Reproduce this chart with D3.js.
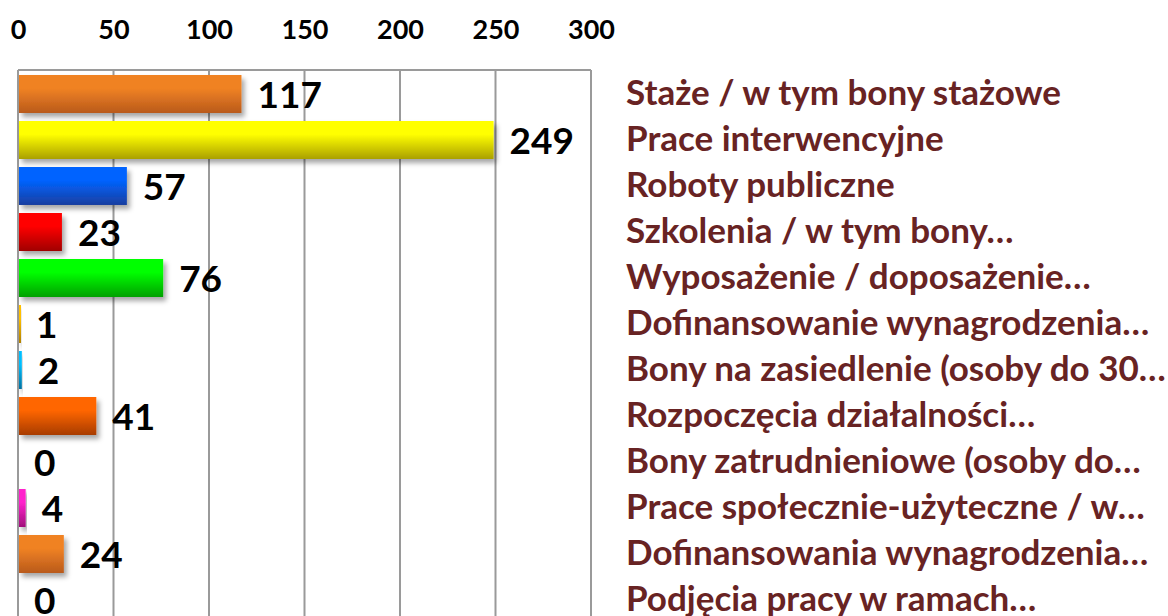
<!DOCTYPE html>
<html>
<head>
<meta charset="utf-8">
<script src="https://cdn.jsdelivr.net/npm/d3@7"></script>
<style>
  html, body { margin: 0; padding: 0; background: #fff; }
  svg { display: block; }
</style>
</head>
<body>
<svg width="1168" height="616"></svg>
<script>
'use strict';

var categories = [
    'Staże / w tym bony stażowe',
    'Prace interwencyjne',
    'Roboty publiczne',
    'Szkolenia / w tym bony…',
    'Wyposażenie / doposażenie…',
    'Dofinansowanie wynagrodzenia…',
    'Bony na zasiedlenie (osoby do 30…',
    'Rozpoczęcia działalności…',
    'Bony zatrudnieniowe (osoby do…',
    'Prace społecznie-użyteczne / w…',
    'Dofinansowania wynagrodzenia…',
    'Podjęcia pracy w ramach…'
];
var values = [117, 249, 57, 23, 76, 1, 2, 41, 0, 4, 24, 0];
var topColors = ['#f08224', '#ffff00', '#0063ff', '#ff0000', '#00ff00', '#ffc000',
                 '#00bfff', '#ff6600', '#ff6600', '#ff22cc', '#f08224', '#f08224'];
var bottomColors = ['#b95a1c', '#aaa000', '#1a3fa0', '#a00000', '#00a000', '#b08000',
                    '#0070a0', '#a83c00', '#a83c00', '#a0107a', '#b95a1c', '#b95a1c'];
var tickValues = [0, 50, 100, 150, 200, 250, 300];

var svg = d3.select('svg');
var FONT = 'Lato, "Open Sans", sans-serif';

var x = d3.scaleLinear().domain([0, 300]).range([18, 591]);
var y = d3.scaleBand()
    .domain(categories)
    .range([71, 71 + 46 * categories.length])
    .paddingInner(0.174)
    .paddingOuter(0.087);

var rows = categories.map(function(c, i) {
    return { name: c, value: values[i], index: i };
});

var defs = svg.append('defs');
var shadow = defs.append('filter')
    .attr('id', 'shadow')
    .attr('x', '-20%').attr('y', '-30%')
    .attr('width', '140%').attr('height', '170%');
shadow.append('feDropShadow')
    .attr('dx', 3).attr('dy', 4)
    .attr('stdDeviation', 2.5)
    .attr('flood-color', '#000')
    .attr('flood-opacity', 0.35);

rows.forEach(function(r) {
    var g = defs.append('linearGradient')
        .attr('id', 'grad' + r.index)
        .attr('x1', 0).attr('y1', 0).attr('x2', 0).attr('y2', 1);
    g.append('stop').attr('offset', '0%').attr('stop-color', topColors[r.index]);
    g.append('stop').attr('offset', '35%').attr('stop-color', topColors[r.index]);
    g.append('stop').attr('offset', '100%').attr('stop-color', bottomColors[r.index]);
});

var plotBottom = 640;

// gridlines and frame
svg.append('g')
    .attr('class', 'grid')
    .selectAll('line')
    .data(tickValues)
    .enter()
    .append('line')
    .attr('x1', function(d) { return x(d); })
    .attr('x2', function(d) { return x(d); })
    .attr('y1', 70)
    .attr('y2', plotBottom)
    .attr('stroke', '#9a9a9a')
    .attr('stroke-width', 2);

svg.append('line')
    .attr('x1', x(0)).attr('x2', x(300))
    .attr('y1', 70).attr('y2', 70)
    .attr('stroke', '#9a9a9a')
    .attr('stroke-width', 2);

// top axis labels
var axisX = d3.axisTop(x)
    .tickValues(tickValues)
    .tickSize(0)
    .tickPadding(0);

var axisG = svg.append('g')
    .attr('class', 'axisX')
    .attr('transform', 'translate(0,39)')
    .call(axisX);
axisG.select('.domain').remove();
axisG.selectAll('text')
    .attr('dy', 0)
    .attr('font-family', FONT)
    .attr('font-weight', 'bold')
    .attr('font-size', 27)
    .attr('fill', '#000');

// bars
svg.append('g')
    .attr('class', 'bars')
    .selectAll('rect')
    .data(rows.filter(function(r) { return r.value > 0; }))
    .enter()
    .append('rect')
    .attr('x', x(0) + 1)
    .attr('y', function(d) { return y(d.name); })
    .attr('height', y.bandwidth())
    .attr('width', function(d) { return Math.max(x(d.value) - x(0) - 1, 2); })
    .attr('fill', function(d) { return 'url(#grad' + d.index + ')'; })
    .attr('filter', 'url(#shadow)');

// value labels
svg.append('g')
    .attr('class', 'values')
    .selectAll('text')
    .data(rows)
    .enter()
    .append('text')
    .attr('x', function(d) { return x(d.value) + 16; })
    .attr('y', function(d) { return y(d.name) + y.bandwidth() / 2 + 14; })
    .attr('font-family', FONT)
    .attr('font-weight', 'bold')
    .attr('font-size', 37)
    .attr('fill', '#000')
    .text(function(d) { return d.value; });

// category labels on the right
svg.append('g')
    .attr('class', 'names')
    .selectAll('text')
    .data(rows)
    .enter()
    .append('text')
    .attr('x', 626)
    .attr('y', function(d) { return y(d.name) + y.bandwidth() / 2 + 11; })
    .attr('font-family', FONT)
    .attr('font-weight', 'bold')
    .attr('font-size', 35)
    .attr('fill', '#682323')
    .text(function(d) { return d.name; });
</script>
</body>
</html>
